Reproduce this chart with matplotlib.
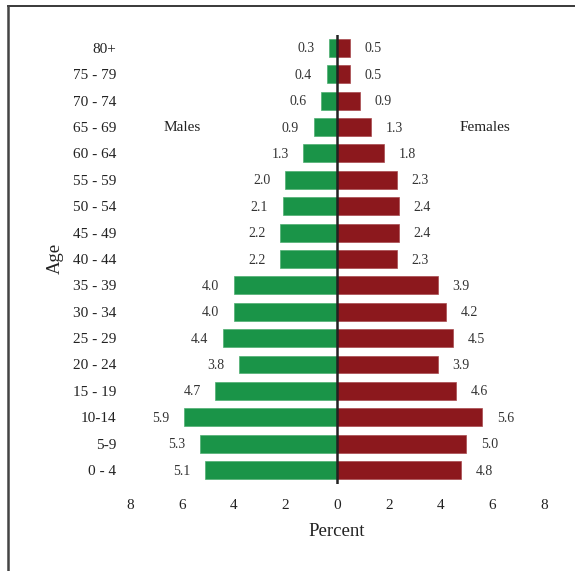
import matplotlib
matplotlib.use("Agg")
import matplotlib.pyplot as plt
from matplotlib.lines import Line2D

# Age groups from oldest (top) to youngest (bottom)
age_groups = ["80+", "75 - 79", "70 - 74", "65 - 69", "60 - 64", "55 - 59",
              "50 - 54", "45 - 49", "40 - 44", "35 - 39", "30 - 34", "25 - 29",
              "20 - 24", "15 - 19", "10-14", "5-9", "0 - 4"]
males = [0.3, 0.4, 0.6, 0.9, 1.3, 2.0, 2.1, 2.2, 2.2, 4.0, 4.0, 4.4, 3.8,
         4.7, 5.9, 5.3, 5.1]
females = [0.5, 0.5, 0.9, 1.3, 1.8, 2.3, 2.4, 2.4, 2.3, 3.9, 4.2, 4.5, 3.9,
           4.6, 5.6, 5.0, 4.8]
x_ticks = [-8, -6, -4, -2, 0, 2, 4, 6, 8]

plt.rcParams["font.family"] = ["Liberation Serif", "DejaVu Serif"]

green = "#1a9448"
red = "#8c181d"

fig = plt.figure(figsize=(5.75, 5.71), dpi=100)
ax = fig.add_axes([130 / 575, 1 - 484 / 571, 414 / 575, 449 / 571])

n = len(age_groups)
ypos = [n - 1 - i for i in range(n)]

ax.barh(ypos, [-m for m in males], height=0.68, color=green,
        edgecolor="#4fae72", linewidth=0.5)
ax.barh(ypos, females, height=0.68, color=red,
        edgecolor="#a84a4e", linewidth=0.5)
ax.axvline(0, color="#222222", linewidth=1.8)

# value labels beside each bar
for y, m, f in zip(ypos, males, females):
    ax.text(-(m + 0.9), y - 0.04, f"{m:.1f}", ha="center", va="center",
            fontsize=10, color="#333333")
    ax.text(f + 0.9, y - 0.04, f"{f:.1f}", ha="center", va="center",
            fontsize=10, color="#333333")

ax.text(-6.0, n - 4, "Males", ha="center", va="center", fontsize=11,
        color="#222222")
ax.text(5.7, n - 4, "Females", ha="center", va="center", fontsize=11,
        color="#222222")

ax.set_xlim(-8, 8)
ax.set_ylim(-0.53, n - 0.51)
ax.set_xticks(x_ticks)
ax.set_xticklabels([str(abs(t)) for t in x_ticks])
ax.set_yticks(ypos)
ax.set_yticklabels(age_groups)
ax.tick_params(axis="x", length=0, pad=11, labelsize=11, colors="#222222")
ax.tick_params(axis="y", length=0, pad=10, labelsize=11, colors="#222222")
for spine in ax.spines.values():
    spine.set_visible(False)

ax.set_xlabel("Percent", fontsize=13.5, labelpad=8, color="#222222")
fig.text(55 / 575, 1 - 258 / 571, "Age", rotation=90, ha="center",
         va="center", fontsize=13.5, color="#222222")

# page frame on the top and left
fig.add_artist(Line2D([8 / 575, 1], [1 - 6 / 571, 1 - 6 / 571],
                      transform=fig.transFigure, color="#2a2a2a", linewidth=1.3))
fig.add_artist(Line2D([8 / 575, 8 / 575], [0, 1 - 6 / 571],
                      transform=fig.transFigure, color="#444444", linewidth=1.8))

fig.savefig("out.png", dpi=100)
